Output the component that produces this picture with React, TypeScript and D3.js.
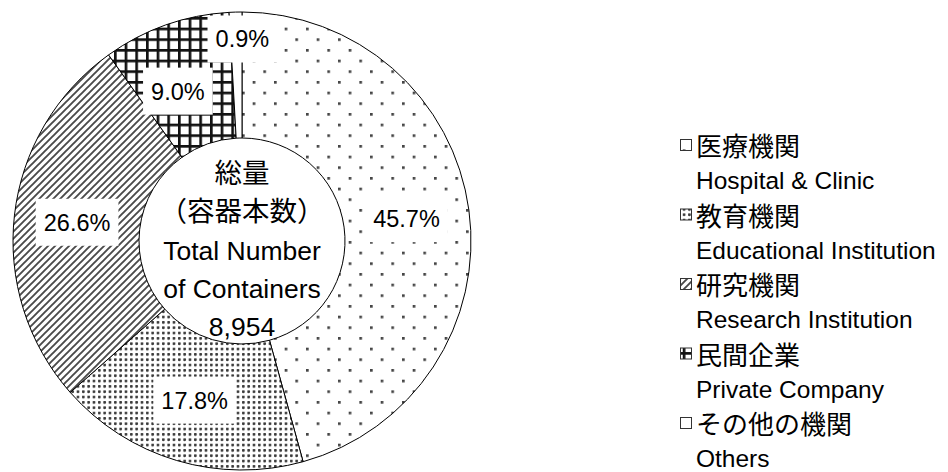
import React, { useEffect, useRef } from "react";
import * as d3 from "d3";

const categoriesJa = ["医療機関", "教育機関", "研究機関", "民間企業", "その他の機関"];
const categoriesEn = ["Hospital & Clinic", "Educational Institution", "Research Institution", "Private Company", "Others"];
const shares = [45.7, 17.8, 26.6, 9.0, 0.9];
const centerLines = ["総量", "（容器本数）", "Total Number", "of Containers", "8,954"];
const patternIds = ["pHosp", "pEdu", "pRes", "pPriv", "pOther"];

const W = 948;
const H = 472;
const FONT = "'Liberation Sans', 'Noto Sans CJK JP', Arial, sans-serif";

export default function App() {
  const ref = useRef<SVGSVGElement | null>(null);

  useEffect(() => {
    const svg = d3.select(ref.current);
    svg.selectAll("*").remove();

    const defs = svg.append("defs");
    const u = 2.667;
    // Hospital: sparse staggered dots
    const ph = defs.append("pattern").attr("id", "pHosp").attr("patternUnits", "userSpaceOnUse")
      .attr("width", u * 8).attr("height", u * 8);
    ph.append("rect").attr("width", u * 8).attr("height", u * 8).attr("fill", "#fff");
    ph.append("rect").attr("x", 0).attr("y", 0).attr("width", u).attr("height", u).attr("fill", "#444");
    ph.append("rect").attr("x", u * 4).attr("y", u * 4).attr("width", u).attr("height", u).attr("fill", "#444");

    // Education: dense dots
    const pe = defs.append("pattern").attr("id", "pEdu").attr("patternUnits", "userSpaceOnUse")
      .attr("width", u * 2).attr("height", u * 2);
    pe.append("rect").attr("width", u * 2).attr("height", u * 2).attr("fill", "#fff");
    pe.append("circle").attr("cx", u * 0.5).attr("cy", u * 0.5).attr("r", 1.45).attr("fill", "#3a3a3a");

    // Research: diagonal stripes
    const p = 7;
    const pr = defs.append("pattern").attr("id", "pRes").attr("patternUnits", "userSpaceOnUse")
      .attr("width", p).attr("height", p);
    pr.append("rect").attr("width", p).attr("height", p).attr("fill", "#fff");
    pr.append("path")
      .attr("d", `M0,${p} L${p},0 M${-p / 2},${p / 2} L${p / 2},${-p / 2} M${p / 2},${p * 1.5} L${p * 1.5},${p / 2}`)
      .attr("stroke", "#4a4a4a").attr("stroke-width", 1.9);

    // Private: grid
    const g = u * 4;
    const pp = defs.append("pattern").attr("id", "pPriv").attr("patternUnits", "userSpaceOnUse")
      .attr("width", g).attr("height", g);
    pp.append("rect").attr("width", g).attr("height", g).attr("fill", "#fff");
    pp.append("rect").attr("x", 0).attr("y", 0).attr("width", g).attr("height", u).attr("fill", "#111");
    pp.append("rect").attr("x", 0).attr("y", 0).attr("width", u).attr("height", g).attr("fill", "#111");

    // Others: white
    const po = defs.append("pattern").attr("id", "pOther").attr("patternUnits", "userSpaceOnUse")
      .attr("width", 4).attr("height", 4);
    po.append("rect").attr("width", 4).attr("height", 4).attr("fill", "#fff");

    const cx = 242, cy = 241, rOuter = 229, rInner = 103;
    const root = svg.append("g").attr("transform", `translate(${cx},${cy})`);

    const pie = d3.pie<number>().sort(null).value((d) => d).startAngle(0).endAngle(2 * Math.PI);
    const arcs = pie(shares);
    const arc = d3.arc<d3.PieArcDatum<number>>().innerRadius(rInner).outerRadius(rOuter);

    root.selectAll("path.slice").data(arcs).enter().append("path")
      .attr("class", "slice")
      .attr("d", arc as any)
      .attr("fill", (_d, i) => `url(#${patternIds[i]})`)
      .attr("stroke", "#000").attr("stroke-width", 1);

    // labels
    const labelAdj = [
      { dr: 0, da: 0 },
      { dr: 0, da: 0 },
      { dr: 0, da: 0 },
      { dr: -3, da: -0.065 },
      { dr: 36, da: 0.03 },
    ];
    const midR = (rInner + rOuter) / 2;
    arcs.forEach((a, i) => {
      const ang = (a.startAngle + a.endAngle) / 2 + labelAdj[i].da;
      const r = midR + labelAdj[i].dr;
      const x = r * Math.sin(ang);
      const y = -r * Math.cos(ang);
      const lg = root.append("g").attr("transform", `translate(${x},${y})`);
      const rect = lg.append("rect").attr("fill", "#fff");
      const t = lg.append("text")
        .attr("text-anchor", "middle")
        .attr("dy", "0.36em")
        .attr("font-family", FONT)
        .attr("font-size", 23.5)
        .attr("fill", "#000")
        .text(`${shares[i].toFixed(1)}%`);
      const bb = (t.node() as SVGTextElement).getBBox();
      const bw = bb.width + 16;
      const bh = 47;
      rect.attr("x", -bw / 2).attr("y", -bh / 2).attr("width", bw).attr("height", bh);
    });

    // center text
    const ct = svg.append("g").attr("font-family", FONT).attr("fill", "#000");
    ct.selectAll("text").data(centerLines).enter().append("text")
      .attr("x", cx)
      .attr("y", (_d, i) => 183 + i * 38.25)
      .attr("text-anchor", "middle")
      .attr("font-size", (_d, i) => (i < 2 ? 27.5 : 26.5))
      .text((d) => d);

    // legend
    const lx = 680;
    const ly = 155;
    const step = 69.5;
    const leg = svg.append("g").attr("font-family", FONT).attr("fill", "#000");
    categoriesJa.forEach((c, i) => {
      const y = ly + i * step;
      leg.append("rect")
        .attr("x", lx + 0.5).attr("y", y - 15.5)
        .attr("width", 11).attr("height", 11)
        .attr("fill", `url(#${patternIds[i]})`)
        .attr("stroke", "#333").attr("stroke-width", 1);
      leg.append("text").attr("x", 696).attr("y", y + 1).attr("font-size", 26).text(c);
      leg.append("text").attr("x", 696).attr("y", y + 34).attr("font-size", 24.5).text(categoriesEn[i]);
    });
  }, []);

  return (
    <svg
      ref={ref}
      width={W}
      height={H}
      viewBox={`0 0 ${W} ${H}`}
      style={{ position: "absolute", left: 0, top: 0, background: "#fff", display: "block" }}
    />
  );
}
